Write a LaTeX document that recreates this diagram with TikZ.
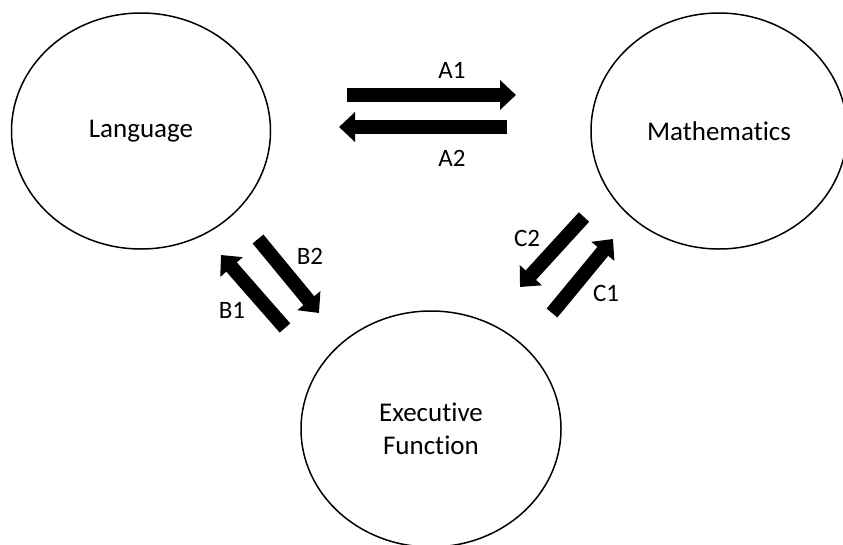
\documentclass[tikz,border=0pt]{standalone}
\usepackage{fontspec}
\setmainfont{Carlito}[Ligatures=NoCommon]
\usetikzlibrary{shapes.geometric,arrows.meta}
\tikzset{
  blob/.style={ellipse, draw=black, line width=1.5pt, inner sep=0pt, font=\fontsize{27}{33}\selectfont, align=center},
  fat/.style={line width=14pt, -{Triangle[width=29pt,length=16pt]}},
  lbl/.style={font=\fontsize{25}{28}\selectfont, inner sep=0pt}
}
\begin{document}
\begin{tikzpicture}[x=1pt,y=-1pt]
\useasboundingbox (0,0) rectangle (843,544);
\node[blob, minimum width=259pt, minimum height=236pt] (lang) at (141,131) {Language};
\node[blob, minimum width=256pt, minimum height=236pt] (math) at (719,131) {Mathematics};
\node[blob, minimum width=260pt, minimum height=236pt] (exec) at (431,429) {Executive\\Function};
% A arrows
\coordinate (a1s) at (347,95); \coordinate (a1e) at (516,95);
\coordinate (a2s) at (507,127); \coordinate (a2e) at (339,127);
\draw[fat] (a1s) -- (a1e);
\draw[fat] (a2s) -- (a2e);
% B arrows
\coordinate (b1s) at (285,328); \coordinate (b1e) at (221,255);
\coordinate (b2s) at (258,239); \coordinate (b2e) at (319,313);
\draw[fat] (b1s) -- (b1e);
\draw[fat] (b2s) -- (b2e);
% C arrows
\coordinate (c2s) at (584,217); \coordinate (c2e) at (520,287);
\coordinate (c1s) at (552,313); \coordinate (c1e) at (613,239);
\draw[fat] (c2s) -- (c2e);
\draw[fat] (c1s) -- (c1e);
% labels
\node[lbl] (la1) at (452,70) {A1};
\node[lbl] (la2) at (452,158) {A2};
\node[lbl] (lb2) at (310,256) {B2};
\node[lbl] (lb1) at (232,310) {B1};
\node[lbl] (lc2) at (527,238) {C2};
\node[lbl] (lc1) at (606,293) {C1};
\end{tikzpicture}
\end{document}
